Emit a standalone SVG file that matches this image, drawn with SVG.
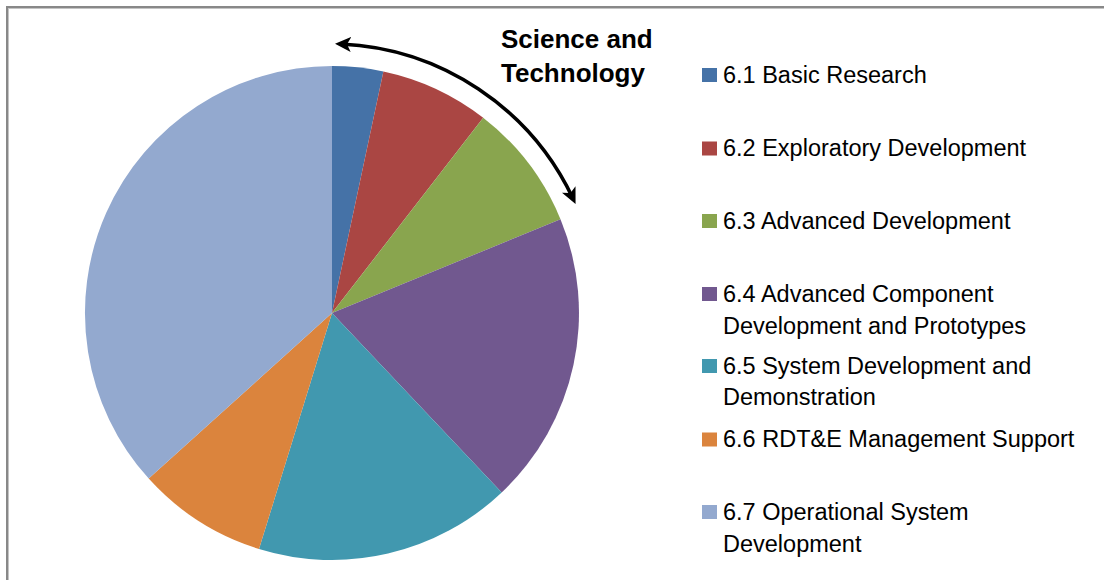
<svg xmlns="http://www.w3.org/2000/svg" width="1104" height="580" viewBox="0 0 1104 580">
  <style>
    .lg { font-family: "Liberation Sans", Arial, sans-serif; font-size: 23.5px; fill: #000; }
    .title { font-family: "Liberation Sans", Arial, sans-serif; font-size: 26px; font-weight: bold; fill: #000; }
    .arc { fill: none; stroke: #000; stroke-width: 3.5; }
  </style>
  <defs>
    <marker id="ah" markerUnits="userSpaceOnUse" markerWidth="16" markerHeight="16" viewBox="0 0 16 16" refX="10" refY="8" orient="auto-start-reverse">
      <path d="M0,0.5 L16,8 L0,15.5 L4,8 Z" fill="#000"/>
    </marker>
  </defs>
  <rect width="1104" height="580" fill="#fff"/>
  <g id="frame">
    <rect x="6" y="6" width="1098" height="2" fill="#888"/>
    <rect x="6" y="8" width="1098" height="1" fill="#c4c4c4"/>
    <rect x="6" y="6" width="2" height="574" fill="#888"/>
    <rect x="8" y="8" width="1" height="572" fill="#c4c4c4"/>
  </g>
  <g id="pie">
    <path id="slice-6-1" d="M332,313 L332,66 A247,247 0 0 1 383.4,71.4 Z" fill="#4572A7"/>
    <path id="slice-6-2" d="M332,313 L383.4,71.4 A247,247 0 0 1 483.2,117.7 Z" fill="#AA4643"/>
    <path id="slice-6-3" d="M332,313 L483.2,117.7 A247,247 0 0 1 560.5,219.3 Z" fill="#89A54E"/>
    <path id="slice-6-4" d="M332,313 L560.5,219.3 A247,247 0 0 1 501.7,492.5 Z" fill="#71588F"/>
    <path id="slice-6-5" d="M332,313 L501.7,492.5 A247,247 0 0 1 259,549 Z" fill="#4198AF"/>
    <path id="slice-6-6" d="M332,313 L259,549 A247,247 0 0 1 148.7,478.6 Z" fill="#DB843D"/>
    <path id="slice-6-7" d="M332,313 L148.7,478.6 A247,247 0 0 1 332,66 Z" fill="#93A9CF"/>
  </g>
  <g id="connectors">
    <path class="arc" d="M341,44 A270,270 0 0 1 573,198.5" marker-start="url(#ah)" marker-end="url(#ah)"/>
  </g>
  <g id="label-st">
    <text class="title" x="501" y="48">Science and</text>
    <text class="title" x="501" y="82">Technology</text>
  </g>
  <g id="legend">
    <g id="legend-6-1">
      <rect x="702" y="68" width="15" height="14" fill="#4572A7"/>
      <text class="lg" x="723" y="82.5">6.1 Basic Research</text>
    </g>
    <g id="legend-6-2">
      <rect x="702" y="141.5" width="15" height="14" fill="#AA4643"/>
      <text class="lg" x="723" y="156">6.2 Exploratory Development</text>
    </g>
    <g id="legend-6-3">
      <rect x="702" y="214" width="15" height="14" fill="#89A54E"/>
      <text class="lg" x="723" y="228.5">6.3 Advanced Development</text>
    </g>
    <g id="legend-6-4">
      <rect x="702" y="287" width="15" height="14" fill="#71588F"/>
      <text class="lg" x="723" y="301.5">6.4 Advanced Component</text>
      <text class="lg" x="723" y="333.5">Development and Prototypes</text>
    </g>
    <g id="legend-6-5">
      <rect x="702" y="359" width="15" height="14" fill="#4198AF"/>
      <text class="lg" x="723" y="373.5">6.5 System Development and</text>
      <text class="lg" x="723" y="405">Demonstration</text>
    </g>
    <g id="legend-6-6">
      <rect x="702" y="432.5" width="15" height="14" fill="#DB843D"/>
      <text class="lg" x="723" y="446.5">6.6 RDT&amp;E Management Support</text>
    </g>
    <g id="legend-6-7">
      <rect x="702" y="505" width="15" height="14" fill="#93A9CF"/>
      <text class="lg" x="723" y="520">6.7 Operational System</text>
      <text class="lg" x="723" y="552">Development</text>
    </g>
  </g>
</svg>
